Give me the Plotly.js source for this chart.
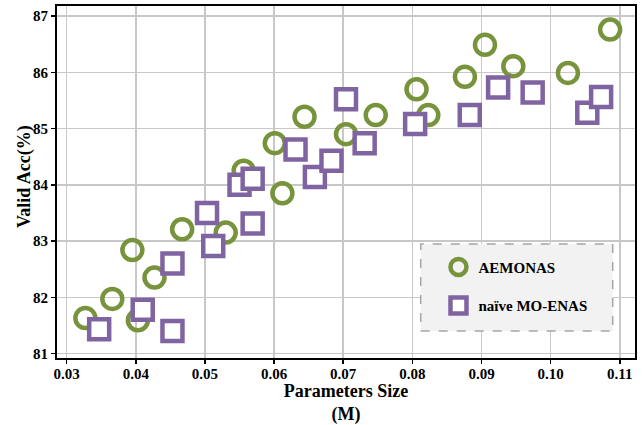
<!DOCTYPE html>
<html>
<head>
<meta charset="utf-8">
<script src="https://cdn.plot.ly/plotly-3.0.1.min.js"></script>
<style>
html,body{margin:0;padding:0;background:#fff;}
#chart{width:643px;height:425px;}
</style>
</head>
<body>
<div id="chart"></div>
<script>
// AEMONAS (circles)
const aemonasSize = [0.0327,0.0366,0.0395,0.0403,0.0427,0.0467,0.0530,0.0556,0.0601,0.0612,0.0644,0.0704,0.0747,0.0806,0.0823,0.0876,0.0905,0.0946,0.1025,0.1086];
const aemonasAcc  = [81.63,81.97,82.84,81.59,82.35,83.21,83.15,84.25,84.74,83.85,85.21,84.90,85.24,85.70,85.24,85.92,86.49,86.11,85.99,86.76];
// naive MO-ENAS (squares)
const naiveSize = [0.0347,0.0410,0.0453,0.0453,0.0503,0.0512,0.0569,0.0550,0.0569,0.0631,0.0659,0.0683,0.0704,0.0731,0.0804,0.0883,0.0924,0.0974,0.1053,0.1073];
const naiveAcc  = [81.43,81.78,81.40,82.60,83.50,82.91,83.31,84.00,84.11,84.63,84.14,84.43,85.52,84.74,85.08,85.24,85.73,85.64,85.28,85.56];
const seriesNames = ["AEMONAS","naïve MO-ENAS"];
const xTicks = [0.03,0.04,0.05,0.06,0.07,0.08,0.09,0.10,0.11];
const xTickText = ["0.03","0.04","0.05","0.06","0.07","0.08","0.09","0.10","0.11"];
const yTicks = [81,82,83,84,85,86,87];

const green = "#77933C", purple = "#8064A2";
const font = {family: "Liberation Serif, Times New Roman, serif", color: "#000"};

const traces = [
  {x: aemonasSize, y: aemonasAcc, name: seriesNames[0], type: "scatter", mode: "markers", legendgroup: "a",
   marker: {symbol: "circle", size: 20, color: "rgba(255,255,255,0)", line: {color: green, width: 4.5}}},
  {x: naiveSize, y: naiveAcc, name: seriesNames[1], type: "scatter", mode: "markers", legendgroup: "b",
   marker: {symbol: "square", size: 20, color: "#ffffff", line: {color: purple, width: 4.5}}}
];

const layout = {
  width: 643, height: 425,
  margin: {l: 57, r: 8, t: 6, b: 67},
  paper_bgcolor: "#fff", plot_bgcolor: "#fff",
  font: Object.assign({}, font, {size: 14}),
  showlegend: true,
  legend: {
    x: 0.66, y: 0.305, xanchor: "left", yanchor: "top",
    bgcolor: "rgba(0,0,0,0)", borderwidth: 0,
    font: Object.assign({}, font, {size: 15, weight: "bold"}),
    traceorder: "grouped", tracegroupgap: 16
  },
  xaxis: {
    range: [0.0286, 0.1122],
    tickvals: xTicks, ticktext: xTickText,
    tickfont: Object.assign({}, font, {size: 15, weight: "bold"}),
    showgrid: true, gridcolor: "#c8c8c8", gridwidth: 1.5,
    zeroline: false,
    showline: true, linecolor: "#000", linewidth: 2, mirror: true,
    ticks: "outside", ticklen: 4, tickwidth: 1.5, tickcolor: "#000",
    ticklabelstandoff: -3,
    title: {text: "<b>Parameters Size</b><br><b>(M)</b>", font: Object.assign({}, font, {size: 18}), standoff: 2}
  },
  yaxis: {
    range: [80.92, 87.18],
    tickvals: yTicks,
    tickfont: Object.assign({}, font, {size: 15, weight: "bold"}),
    showgrid: true, gridcolor: "#c8c8c8", gridwidth: 1.5,
    zeroline: false,
    showline: true, linecolor: "#000", linewidth: 2, mirror: true,
    ticks: "outside", ticklen: 4, tickwidth: 1.5, tickcolor: "#000"
  },
  annotations: [{
    text: "<b>Valid Acc(%)</b>", textangle: -90,
    xref: "paper", yref: "paper", x: (24-57)/578, y: (358-177)/352,
    xanchor: "center", yanchor: "middle", showarrow: false,
    font: Object.assign({}, font, {size: 18})
  }],
  shapes: [{
    type: "rect", xref: "paper", yref: "paper", layer: "above",
    x0: (420.7-57)/578, x1: (612.7-57)/578,
    y0: (358-331)/352, y1: (358-244)/352,
    fillcolor: "#f2f2f2", line: {color: "#a6a6a6", width: 1.5, dash: "dash"}
  }]
};

Plotly.newPlot("chart", traces, layout, {displayModeBar: false, staticPlot: true});
</script>
</body>
</html>
